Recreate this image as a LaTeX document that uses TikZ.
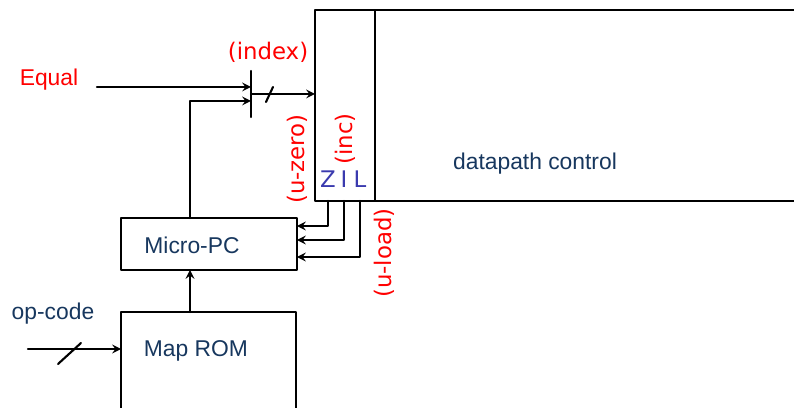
\documentclass[tikz,border=0pt]{standalone}
\usepackage{fontspec}
\setmainfont{Liberation Sans}
\newfontfamily\handfont{DejaVu Sans}
\usetikzlibrary{calc}
\definecolor{navy}{HTML}{17375E}
\definecolor{zilblue}{HTML}{3A3AAE}
\tikzset{
  box/.style={draw, line width=1.2pt, inner sep=0pt, outer sep=0pt},
  arr/.style={->, line width=1.2pt},
  txt/.style={text=navy, font=\fontsize{13}{15}\selectfont},
  note/.style={text=red, font=\handfont\fontsize{13}{15}\selectfont, inner sep=0pt},
  zil/.style={text=zilblue, font=\handfont\fontsize{13}{15}\selectfont, inner sep=0pt}
}
\begin{document}
\begin{tikzpicture}[x=0.02cm, y=-0.02cm, >=stealth, line join=round, line cap=round]
  \useasboundingbox (0,0) rectangle (794,408);
  \clip (0,0) rectangle (794,408);
  \node[box, anchor=north west, minimum width=1.2cm, minimum height=3.82cm] (ctl) at (315,10) {};
  \node[box, anchor=north west, minimum width=9cm, minimum height=3.82cm] (dp) at (ctl.north east) {};
  \node[box, anchor=north west, minimum width=3.52cm, minimum height=1.04cm] (upc) at (121,218) {};
  \node[box, anchor=north west, minimum width=3.5cm, minimum height=2.5cm] (rom) at (121,312) {};
  \node[txt] (dplbl) at (535,164) {datapath control};
  \node[txt] (upclbl) at (192,245) {Micro-PC};
  \node[txt] (romlbl) at (196,351) {Map ROM};
  \node[txt, text=red] (eq) at (49,80) {Equal};
  \node[txt] (op) at (53,314) {op-code};
  \node[note] (idx) at (268,52) {(index)};
  \node[note, rotate=90] (uzero) at (297,159) {(u-zero)};
  \node[note, rotate=90] (inc) at (345,139) {(inc)};
  \node[note, rotate=90] (uload) at (384,253) {(u-load)};
  \node[zil] (zz) at (328,179) {Z};
  \node[zil] (ii) at (344,179) {I};
  \node[zil] (ll) at (360,179) {L};
  \coordinate (mtop) at (251,71); \coordinate (mbot) at (251,117);
  \coordinate (ma) at (251,87); \coordinate (mb) at (251,101); \coordinate (mo) at (251,94);
  \coordinate (eqin) at (97,87); \coordinate (pcout) at (190,218);
  \coordinate (opin) at (28,349);
  \coordinate (lz) at (0,226); \coordinate (li) at (0,240); \coordinate (ll2) at (0,257);
  \draw[line width=1.4pt] (mtop) -- (mbot);
  \draw[arr] (eqin) -- (ma);
  \draw[arr] (pcout) |- (mb);
  \draw[arr] (mo) -- (mo -| ctl.west);
  \draw[line width=1.2pt] ($(mo)+(15,8)$) -- ($(mo)+(22,-7)$);
  \draw[arr] (zz |- ctl.south) |- (upc.east |- lz);
  \draw[arr] (ii |- ctl.south) |- (upc.east |- li);
  \draw[arr] (ll |- ctl.south) |- (upc.east |- ll2);
  \draw[arr] (rom.north -| pcout) -- (upc.south -| pcout);
  \draw[arr] (opin) -- (opin -| rom.west);
  \draw[line width=1.2pt] (58,364) -- (81,343);
\end{tikzpicture}
\end{document}
